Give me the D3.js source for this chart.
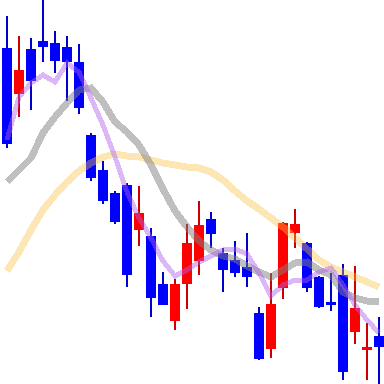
<!DOCTYPE html>
<html>
<head>
<meta charset="utf-8">
<script src="https://cdn.jsdelivr.net/npm/d3@7"></script>
<style>
  html, body { margin: 0; padding: 0; background: #fff; }
  svg { display: block; }
</style>
</head>
<body>
<div id="vis"></div>
<script>
const visWidth = 384;
const visHeight = 384;

// daily prices (no axis in the picture, so arbitrary units)
const open  = [352, 306, 351, 359, 357, 353, 338, 265, 230, 207, 215, 170, 164, 116, 79, 116,
               139, 181, 147, 140, 133, 87, 51, 112, 167, 157, 123, 98, 125, 68, 50, 64];
const high  = [384, 364, 362, 400, 369, 364, 356, 267, 239, 209, 217, 214, 172, 128, 121, 176,
               199, 188, 152, 159, 167, 93, 127, 178, 191, 158, 124, 127, 136, 134, 77, 83];
const low   = [252, 283, 290, 338, 327, 299, 286, 219, 196, 176, 113, 154, 83, 95, 70, 91,
               125, 152, 108, 123, 113, 40, 42, 101, 152, 108, 92, 89, 20, 56, 20, 16];
const close = [256, 330, 319, 353, 339, 338, 292, 222, 199, 178, 125, 187, 102, 95, 116, 157,
               175, 166, 130, 127, 123, 41, 96, 177, 176, 112, 93, 95, 28, 92, 53, 53];

// moving averages
const maShort = [260, 303, 317, 325, 318, 337, 328, 302, 275, 243, 208, 182, 162, 139, 124, 130,
                 138, 144, 150, 151, 146, 127, 104, 115, 120, 120, 128, 132, 115, 95, 80, 67];
const maMid   = [218, 230, 242, 267, 283, 297, 310, 312, 298, 278, 268, 255, 235, 211, 189, 173,
                 159, 150, 144, 141, 134, 128, 123, 130, 137, 138, 130, 125, 108, 102, 99, 98];
const maLong  = [129, 148, 170, 190, 205, 218, 229, 237, 243, 246, 244, 243, 240, 237, 235, 233,
                 232, 228, 220, 209, 199, 191, 182, 173, 162, 151, 140, 133, 128, 123, 118, 113];

const candles = d3.range(open.length).map(i => ({
  i, open: open[i], high: high[i], low: low[i], close: close[i]
}));

const svg = d3.select('#vis').append('svg')
    .attr('width', visWidth)
    .attr('height', visHeight);

const x = d3.scaleBand()
    .domain(d3.range(candles.length))
    .range([1, 385])
    .paddingInner(1 / 6)
    .paddingOuter(1 / 12);

const y = d3.scaleLinear()
    .domain([16, 400])
    .range([384, 0]);

const cx = i => x(i) + x.bandwidth() / 2;
const up = d => d.close >= d.open;

const g = svg.selectAll('g.candle')
  .data(candles)
  .join('g')
    .attr('class', 'candle')
    .attr('shape-rendering', 'crispEdges');

g.append('rect')
    .attr('x', d => cx(d.i) - 1)
    .attr('width', 2)
    .attr('y', d => y(d.high))
    .attr('height', d => y(d.low) - y(d.high))
    .attr('fill', d => up(d) ? '#cc0000' : '#0000cc');

g.append('rect')
    .attr('x', d => x(d.i))
    .attr('width', x.bandwidth())
    .attr('y', d => y(Math.max(d.open, d.close)))
    .attr('height', d => Math.max(1, Math.abs(y(d.open) - y(d.close))))
    .attr('fill', d => up(d) ? '#ff0000' : '#0000ff');

const line = d3.line()
    .x((d, i) => cx(i))
    .y(d => y(d));

const lines = [
  {data: maLong, color: '#f8c040', width: 7, opacity: 0.4},
  {data: maMid, color: '#808080', width: 7, opacity: 0.5},
  {data: maShort, color: '#b060f0', width: 5, opacity: 0.45},
];

svg.selectAll('path.ma')
  .data(lines)
  .join('path')
    .attr('class', 'ma')
    .attr('d', d => line(d.data))
    .attr('fill', 'none')
    .attr('stroke', d => d.color)
    .attr('stroke-width', d => d.width)
    .attr('stroke-opacity', d => d.opacity)
    .attr('shape-rendering', 'crispEdges');
</script>
</body>
</html>
